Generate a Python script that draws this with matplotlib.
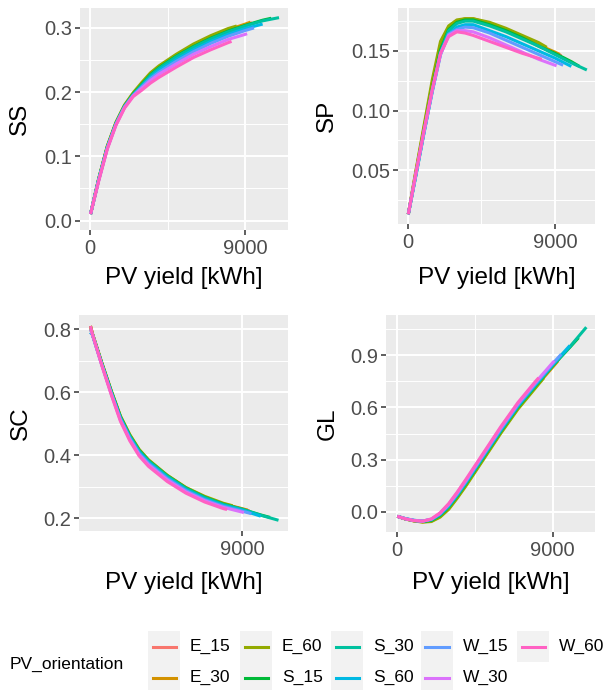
import matplotlib
matplotlib.use("Agg")
import matplotlib.pyplot as plt
from matplotlib.lines import Line2D
from matplotlib.patches import Rectangle

plt.rcParams['font.family'] = ['Liberation Sans', 'DejaVu Sans']

# ---------------- data ----------------
orientations = ["E_15", "E_30", "E_60", "S_15", "S_30", "S_60", "W_15", "W_30", "W_60"]
colors = ["#F8766D", "#D39200", "#93AA00", "#00BA38", "#00C19F",
          "#00B9E3", "#619CFF", "#DB72FB", "#FF61C3"]

pv_yield = {
    "E_15": [30, 500, 1000, 1500, 2000, 2500, 3000, 3500, 4000, 5000, 6000, 7000, 8000, 9000, 9400],
    "E_30": [30, 500, 1000, 1500, 2000, 2500, 3000, 3500, 4000, 5000, 6000, 7000, 8000, 9000, 9300],
    "E_60": [30, 500, 1000, 1500, 2000, 2500, 3000, 3500, 4000, 5000, 6000, 7000, 8000, 8500],
    "S_15": [30, 500, 1000, 1500, 2000, 2500, 3000, 3500, 4000, 5000, 6000, 7000, 8000, 9000, 10000, 10500],
    "S_30": [30, 500, 1000, 1500, 2000, 2500, 3000, 3500, 4000, 5000, 6000, 7000, 8000, 9000, 10000, 10950],
    "S_60": [30, 500, 1000, 1500, 2000, 2500, 3000, 3500, 4000, 5000, 6000, 7000, 8000, 9000, 10000],
    "W_15": [30, 500, 1000, 1500, 2000, 2500, 3000, 3500, 4000, 5000, 6000, 7000, 8000, 9000, 9500],
    "W_30": [30, 500, 1000, 1500, 2000, 2500, 3000, 3500, 4000, 5000, 6000, 7000, 8000, 9000, 9100],
    "W_60": [30, 500, 1000, 1500, 2000, 2500, 3000, 3500, 4000, 5000, 6000, 7000, 8000, 8200],
}

pv_yield_sc = {
    "E_15": [900, 1000, 1500, 2000, 2500, 3000, 3500, 4000, 5000, 6000, 7000, 8000, 9000, 9400],
    "E_30": [900, 1000, 1500, 2000, 2500, 3000, 3500, 4000, 5000, 6000, 7000, 8000, 9000, 9300],
    "E_60": [900, 1000, 1500, 2000, 2500, 3000, 3500, 4000, 5000, 6000, 7000, 8000, 8500],
    "S_15": [900, 1000, 1500, 2000, 2500, 3000, 3500, 4000, 5000, 6000, 7000, 8000, 9000, 10000, 10500],
    "S_30": [900, 1000, 1500, 2000, 2500, 3000, 3500, 4000, 5000, 6000, 7000, 8000, 9000, 10000, 10950],
    "S_60": [900, 1000, 1500, 2000, 2500, 3000, 3500, 4000, 5000, 6000, 7000, 8000, 9000, 10000],
    "W_15": [900, 1000, 1500, 2000, 2500, 3000, 3500, 4000, 5000, 6000, 7000, 8000, 9000, 9500],
    "W_30": [900, 1000, 1500, 2000, 2500, 3000, 3500, 4000, 5000, 6000, 7000, 8000, 9000, 9100],
    "W_60": [900, 1000, 1500, 2000, 2500, 3000, 3500, 4000, 5000, 6000, 7000, 8000, 8200],
}

ss = {
    "E_15": [0.010, 0.064, 0.115, 0.151, 0.178, 0.197, 0.211, 0.226, 0.237, 0.255, 0.271, 0.284, 0.295, 0.304, 0.308],
    "E_30": [0.010, 0.064, 0.115, 0.152, 0.179, 0.198, 0.213, 0.228, 0.239, 0.257, 0.273, 0.286, 0.297, 0.306, 0.309],
    "E_60": [0.010, 0.065, 0.116, 0.153, 0.180, 0.199, 0.215, 0.230, 0.241, 0.259, 0.275, 0.288, 0.299, 0.303],
    "S_15": [0.010, 0.064, 0.114, 0.151, 0.178, 0.197, 0.212, 0.227, 0.238, 0.256, 0.271, 0.284, 0.295, 0.304, 0.312, 0.315],
    "S_30": [0.010, 0.064, 0.114, 0.151, 0.178, 0.196, 0.211, 0.226, 0.237, 0.255, 0.270, 0.283, 0.294, 0.303, 0.311, 0.316],
    "S_60": [0.010, 0.063, 0.113, 0.150, 0.177, 0.195, 0.209, 0.223, 0.234, 0.251, 0.266, 0.279, 0.290, 0.299, 0.306],
    "W_15": [0.010, 0.063, 0.113, 0.150, 0.177, 0.195, 0.208, 0.221, 0.231, 0.248, 0.263, 0.276, 0.287, 0.296, 0.300],
    "W_30": [0.010, 0.062, 0.112, 0.149, 0.176, 0.194, 0.206, 0.218, 0.228, 0.244, 0.259, 0.271, 0.282, 0.290, 0.291],
    "W_60": [0.010, 0.061, 0.111, 0.148, 0.175, 0.193, 0.203, 0.214, 0.223, 0.239, 0.254, 0.266, 0.277, 0.279],
}

sp = {
    "E_15": [0.013, 0.048, 0.085, 0.121, 0.153, 0.169, 0.175, 0.176, 0.176, 0.172, 0.167, 0.161, 0.155, 0.148, 0.146],
    "E_30": [0.013, 0.049, 0.086, 0.123, 0.155, 0.170, 0.175, 0.177, 0.177, 0.173, 0.168, 0.162, 0.155, 0.149, 0.147],
    "E_60": [0.013, 0.050, 0.088, 0.126, 0.158, 0.171, 0.176, 0.177, 0.177, 0.174, 0.169, 0.163, 0.157, 0.153],
    "S_15": [0.013, 0.047, 0.084, 0.119, 0.151, 0.168, 0.174, 0.176, 0.176, 0.172, 0.167, 0.161, 0.154, 0.148, 0.141, 0.137],
    "S_30": [0.013, 0.046, 0.082, 0.117, 0.149, 0.167, 0.173, 0.175, 0.175, 0.171, 0.166, 0.160, 0.154, 0.147, 0.140, 0.134],
    "S_60": [0.013, 0.046, 0.082, 0.116, 0.147, 0.164, 0.170, 0.172, 0.172, 0.167, 0.162, 0.156, 0.150, 0.144, 0.137],
    "W_15": [0.013, 0.047, 0.083, 0.117, 0.148, 0.164, 0.168, 0.170, 0.1695, 0.165, 0.159, 0.153, 0.147, 0.141, 0.138],
    "W_30": [0.013, 0.047, 0.083, 0.117, 0.147, 0.163, 0.167, 0.167, 0.166, 0.161, 0.155, 0.149, 0.143, 0.138, 0.1375],
    "W_60": [0.013, 0.048, 0.084, 0.118, 0.148, 0.162, 0.166, 0.165, 0.163, 0.158, 0.153, 0.148, 0.1438, 0.143],
}

sc = {
    "E_15": [0.81, 0.786, 0.692, 0.604, 0.521, 0.462, 0.415, 0.383, 0.335, 0.296, 0.267, 0.245, 0.230, 0.224],
    "E_30": [0.81, 0.786, 0.693, 0.605, 0.523, 0.464, 0.417, 0.384, 0.336, 0.297, 0.268, 0.246, 0.231, 0.226],
    "E_60": [0.81, 0.787, 0.695, 0.607, 0.525, 0.466, 0.419, 0.386, 0.337, 0.298, 0.270, 0.248, 0.240],
    "S_15": [0.80, 0.785, 0.692, 0.604, 0.522, 0.462, 0.416, 0.383, 0.335, 0.296, 0.267, 0.245, 0.229, 0.211, 0.203],
    "S_30": [0.79, 0.784, 0.691, 0.603, 0.520, 0.461, 0.414, 0.382, 0.334, 0.295, 0.266, 0.244, 0.229, 0.210, 0.194],
    "S_60": [0.79, 0.783, 0.689, 0.600, 0.517, 0.457, 0.410, 0.378, 0.330, 0.291, 0.262, 0.241, 0.226, 0.207],
    "W_15": [0.79, 0.783, 0.688, 0.598, 0.514, 0.454, 0.406, 0.374, 0.326, 0.288, 0.259, 0.238, 0.223, 0.215],
    "W_30": [0.80, 0.784, 0.687, 0.596, 0.511, 0.450, 0.402, 0.370, 0.322, 0.284, 0.256, 0.235, 0.220, 0.218],
    "W_60": [0.81, 0.785, 0.686, 0.594, 0.508, 0.446, 0.398, 0.365, 0.317, 0.280, 0.252, 0.231, 0.228],
}

gl = {
    "E_15": [-0.025, -0.040, -0.050, -0.056, -0.050, -0.022, 0.025, 0.090, 0.160, 0.310, 0.460, 0.600, 0.720, 0.835, 0.880],
    "E_30": [-0.025, -0.040, -0.051, -0.057, -0.052, -0.026, 0.020, 0.085, 0.155, 0.305, 0.455, 0.595, 0.715, 0.830, 0.865],
    "E_60": [-0.025, -0.040, -0.052, -0.058, -0.055, -0.030, 0.015, 0.080, 0.150, 0.300, 0.450, 0.590, 0.710, 0.770],
    "S_15": [-0.025, -0.040, -0.050, -0.055, -0.048, -0.020, 0.028, 0.093, 0.163, 0.313, 0.462, 0.602, 0.722, 0.838, 0.945, 1.000],
    "S_30": [-0.025, -0.039, -0.049, -0.054, -0.046, -0.017, 0.031, 0.096, 0.166, 0.316, 0.465, 0.605, 0.725, 0.840, 0.948, 1.060],
    "S_60": [-0.025, -0.038, -0.048, -0.052, -0.043, -0.013, 0.036, 0.100, 0.172, 0.322, 0.470, 0.610, 0.730, 0.845, 0.955],
    "W_15": [-0.025, -0.039, -0.048, -0.052, -0.042, -0.011, 0.040, 0.105, 0.176, 0.326, 0.475, 0.615, 0.735, 0.850, 0.905],
    "W_30": [-0.025, -0.039, -0.049, -0.053, -0.041, -0.008, 0.044, 0.110, 0.182, 0.332, 0.482, 0.622, 0.742, 0.856, 0.867],
    "W_60": [-0.025, -0.040, -0.050, -0.053, -0.040, -0.005, 0.048, 0.115, 0.188, 0.338, 0.488, 0.628, 0.748, 0.770],
}

x_label = "PV yield [kWh]"
legend_title = "PV_orientation"
ss_ticks, ss_ticklabels = [0.0, 0.1, 0.2, 0.3], ["0.0", "0.1", "0.2", "0.3"]
sp_ticks, sp_ticklabels = [0.05, 0.10, 0.15], ["0.05", "0.10", "0.15"]
sc_ticks, sc_ticklabels = [0.2, 0.4, 0.6, 0.8], ["0.2", "0.4", "0.6", "0.8"]
gl_ticks, gl_ticklabels = [0.0, 0.3, 0.6, 0.9], ["0.0", "0.3", "0.6", "0.9"]
x_ticks, x_ticklabels = [0, 9000], ["0", "9000"]
sc_x_ticks, sc_x_ticklabels = [9000], ["9000"]

# ---------------- layout ----------------
W, H = 603, 690
def fx(px): return px / W
def fy(py): return 1 - py / H

fig = plt.figure(figsize=(W / 100, H / 100), dpi=100)

panels = [
    dict(name="SS", data=ss, xs=pv_yield, box=(80, 8, 288, 229.5),
         xlim=(-580, 11470), ylim=(-0.014, 0.331),
         yt=ss_ticks, ytl=ss_ticklabels, ymin=[0.05, 0.15, 0.25],
         xt=x_ticks, xtl=x_ticklabels, xmin=[4500], ylab_x=20, xlab_y=278),
    dict(name="SP", data=sp, xs=pv_yield, box=(398, 8, 595, 224),
         xlim=(-600, 11450), ylim=(0.0048, 0.186),
         yt=sp_ticks, ytl=sp_ticklabels, ymin=[0.025, 0.075, 0.125, 0.175],
         xt=x_ticks, xtl=x_ticklabels, xmin=[4500], ylab_x=327, xlab_y=278),
    dict(name="SC", data=sc, xs=pv_yield_sc, box=(79, 315, 288, 531),
         xlim=(286, 11458), ylim=(0.160, 0.845),
         yt=sc_ticks, ytl=sc_ticklabels, ymin=[0.3, 0.5, 0.7],
         xt=sc_x_ticks, xtl=sc_x_ticklabels, xmin=[], ylab_x=21, xlab_y=583),
    dict(name="GL", data=gl, xs=pv_yield, box=(386, 315, 595, 532),
         xlim=(-620, 11450), ylim=(-0.115, 1.13),
         yt=gl_ticks, ytl=gl_ticklabels, ymin=[0.15, 0.45, 0.75, 1.05],
         xt=x_ticks, xtl=x_ticklabels, xmin=[4500], ylab_x=328, xlab_y=583),
]

for p in panels:
    x0, y0, x1, y1 = p["box"]
    ax = fig.add_axes([fx(x0), fy(y1), (x1 - x0) / W, (y1 - y0) / H])
    ax.set_facecolor("#EBEBEB")
    for s in ax.spines.values():
        s.set_visible(False)
    ax.set_axisbelow(True)
    ax.set_xticks(p["xt"])
    ax.set_xticklabels(p["xtl"])
    ax.set_yticks(p["yt"])
    ax.set_yticklabels(p["ytl"])
    ax.set_xticks(p["xmin"], minor=True)
    ax.set_yticks(p["ymin"], minor=True)
    ax.grid(which="major", color="white", linewidth=1.4)
    ax.grid(which="minor", color="white", linewidth=0.7)
    ax.tick_params(which="major", length=3.5, width=1.1, color="#333333",
                   labelsize=14.5, labelcolor="#4D4D4D")
    ax.tick_params(axis="x", which="major", pad=3)
    ax.tick_params(axis="y", which="major", pad=2)
    ax.tick_params(which="minor", length=0)
    for name, col in zip(orientations, colors):
        ax.plot(p["xs"][name], p["data"][name], color=col, linewidth=2.2,
                solid_joinstyle="round", solid_capstyle="butt")
    ax.set_xlim(*p["xlim"])
    ax.set_ylim(*p["ylim"])
    # axis titles
    ax.set_xlabel(x_label, fontsize=17.5, color="black")
    ax.xaxis.label.set_va("center")
    ax.xaxis.set_label_coords(0.5, -(p["xlab_y"] - y1) / (y1 - y0))
    ax.set_ylabel(p["name"], fontsize=17.5, color="black")
    ax.yaxis.label.set_va("center")
    ax.yaxis.set_label_coords((p["ylab_x"] - x0) / (x1 - x0), 0.5)

# ---------------- legend ----------------
fig.text(fx(10), fy(664), legend_title, fontsize=12.5, color="black",
         ha="left", va="center")
col_x = [148, 240, 331, 421, 517]
row_top = [631, 662]
key_w, key_h = 32, 31
for i, (name, col) in enumerate(zip(orientations, colors)):
    c, r = i // 2, i % 2
    bx, by = col_x[c], row_top[r]
    fig.add_artist(Rectangle((fx(bx), fy(by + key_h)), key_w / W, key_h / H,
                             transform=fig.transFigure, facecolor="#F2F2F2",
                             edgecolor="none"))
    cy = by + key_h / 2
    fig.add_artist(Line2D([fx(bx + 4.5), fx(bx + key_w - 4.5)], [fy(cy), fy(cy)],
                          transform=fig.transFigure, color=col, linewidth=2.2))
    fig.text(fx(bx + 42), fy(cy), name, fontsize=12.5, color="black",
             ha="left", va="center")

fig.savefig("out.png", dpi=100)
